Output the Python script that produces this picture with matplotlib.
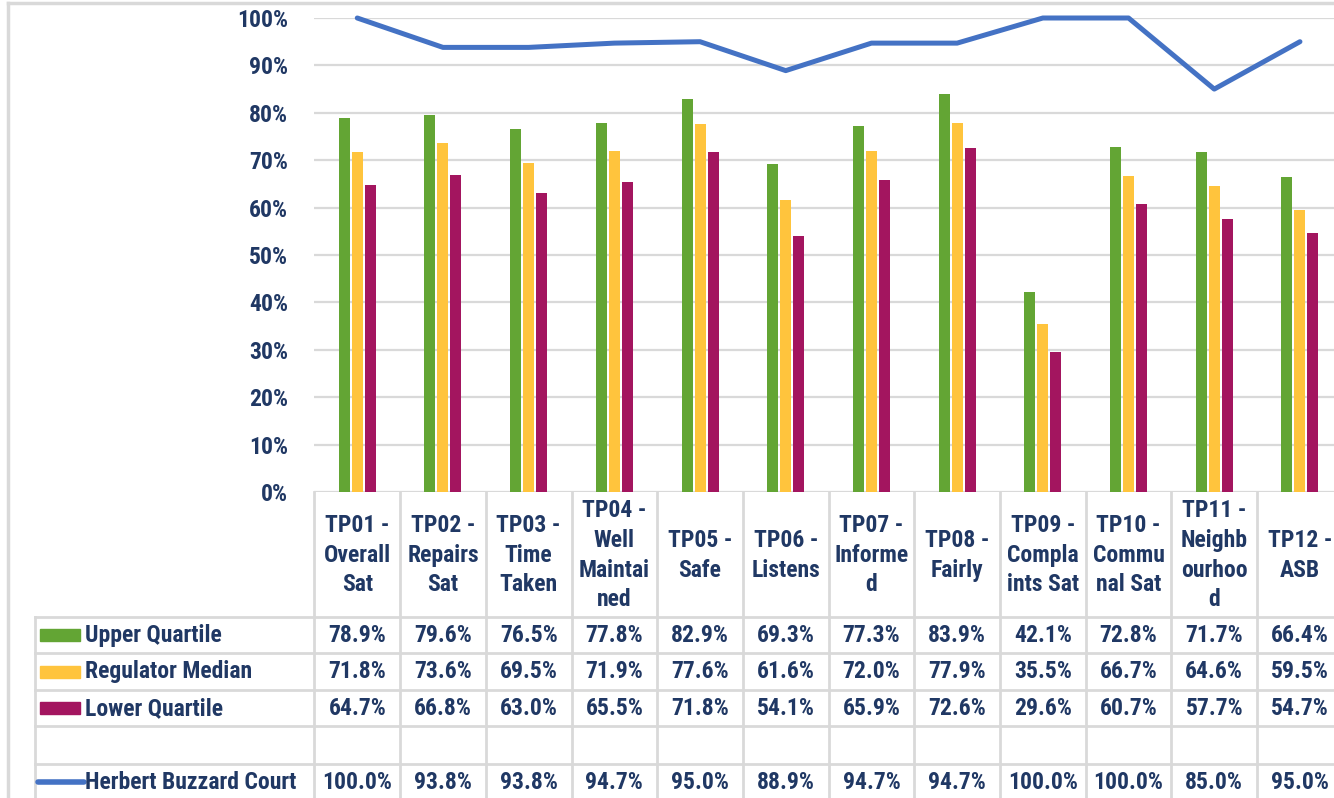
import matplotlib

matplotlib.use("Agg")
import matplotlib.pyplot as plt
from matplotlib.lines import Line2D
from matplotlib.patches import Rectangle
from matplotlib.ticker import PercentFormatter

# ---- data -------------------------------------------------------------
CATEGORIES = [
    "TP01 -\nOverall\nSat",
    "TP02 -\nRepairs\nSat",
    "TP03 -\nTime\nTaken",
    "TP04 -\nWell\nMaintai\nned",
    "TP05 -\nSafe",
    "TP06 -\nListens",
    "TP07 -\nInforme\nd",
    "TP08 -\nFairly",
    "TP09 -\nCompla\nints Sat",
    "TP10 -\nCommu\nnal Sat",
    "TP11 -\nNeighb\nourhoo\nd",
    "TP12 -\nASB",
]
UPPER = [78.9, 79.6, 76.5, 77.8, 82.9, 69.3, 77.3, 83.9, 42.1, 72.8, 71.7, 66.4]
MEDIAN = [71.8, 73.6, 69.5, 71.9, 77.6, 61.6, 72.0, 77.9, 35.5, 66.7, 64.6, 59.5]
LOWER = [64.7, 66.8, 63.0, 65.5, 71.8, 54.1, 65.9, 72.6, 29.6, 60.7, 57.7, 54.7]
HERBERT = [100.0, 93.8, 93.8, 94.7, 95.0, 88.9, 94.7, 94.7, 100.0, 100.0, 85.0, 95.0]

GREEN = "#63A534"
YELLOW = "#FFC43D"
PURPLE = "#A3155F"
BLUE = "#4472C4"
NAVY = "#203864"
GRID = "#D9D9D9"

# narrow bold face, close to the Arial Narrow used in the original
plt.rcParams["font.family"] = ["Roboto Condensed", "Liberation Sans", "DejaVu Sans"]
plt.rcParams["font.weight"] = "bold"
FS = 17

W, H = 1334, 798
fig = plt.figure(figsize=(W / 100, H / 100), dpi=100)


def px(x0, y0, x1, y1):
    """pixel box (top-left origin) -> figure fraction rect"""
    return [x0 / W, 1 - y1 / H, (x1 - x0) / W, (y1 - y0) / H]


step = 85.7
plot_l = 314.4
plot_r = plot_l + 12 * step
ax = fig.add_axes(px(plot_l, 18, plot_r, 492))
n = len(CATEGORIES)
xs = list(range(n))
bw = 0.128
off = 0.152
ax.bar([x - off for x in xs], UPPER, bw, color=GREEN, zorder=3)
ax.bar(xs, MEDIAN, bw, color=YELLOW, zorder=3)
ax.bar([x + off for x in xs], LOWER, bw, color=PURPLE, zorder=3)
ax.plot(xs, HERBERT, color=BLUE, lw=3.6, solid_capstyle="round",
        solid_joinstyle="round", zorder=4, clip_on=False)
ax.set_xlim(-0.5, n - 0.5)
ax.set_ylim(0, 100)
ax.set_yticks(range(0, 101, 10))
ax.yaxis.set_major_formatter(PercentFormatter(decimals=0))
ax.tick_params(axis="y", length=0, pad=19, labelsize=FS, labelcolor=NAVY)
ax.set_xticks([])
ax.grid(axis="y", color=GRID, lw=1.6, zorder=0)
for s in ax.spines.values():
    s.set_visible(False)

# ---- data table -------------------------------------------------------
tab_l = 35
lab_w = (plot_l - tab_l) / step
tab = fig.add_axes(px(tab_l, 492, plot_r, 800))
tab.set_xlim(-0.5 - lab_w, n - 0.5)
rows_h = [125, 37, 37, 36, 38, 36]
bounds = [0]
for h in rows_h:
    bounds.append(bounds[-1] + h)
tab.set_ylim(bounds[-1], 0)
tab.axis("off")

lkw = dict(color=GRID, lw=2, clip_on=False)
# vertical lines
for i in range(n + 1):
    tab.plot([i - 0.5, i - 0.5], [0, bounds[-1]], **lkw)
tab.plot([-0.5 - lab_w] * 2, [bounds[1], bounds[-1]], **lkw)
# horizontal lines
for b in bounds[1:]:
    tab.plot([-0.5 - lab_w, n - 0.5], [b, b], **lkw)

for i, lab in enumerate(CATEGORIES):
    tab.text(i, (bounds[0] + bounds[1]) / 2 + 1, lab, ha="center", va="center",
             fontsize=FS, color=NAVY, linespacing=1.37)

series = [
    ("Upper Quartile", UPPER, GREEN, 1),
    ("Regulator Median", MEDIAN, YELLOW, 2),
    ("Lower Quartile", LOWER, PURPLE, 3),
    ("Herbert Buzzard Court", HERBERT, BLUE, 5),
]
key_x0 = -0.5 - lab_w + 5 / step
key_x1 = key_x0 + 40 / step
for name, vals, col, r in series:
    yc = (bounds[r] + bounds[r + 1]) / 2
    if r == 5:
        tab.plot([key_x0 - 2 / step, key_x1 + 4 / step], [yc, yc], color=col,
                 lw=4, solid_capstyle="round")
    else:
        tab.add_patch(Rectangle((key_x0, yc - 6), key_x1 - key_x0, 12,
                                color=col))
    tab.text(key_x1 + 5 / step, yc, name, ha="left", va="center",
             fontsize=FS, color=NAVY)
    for i, v in enumerate(vals):
        tab.text(i, yc, f"{v:.1f}%", ha="center", va="center",
                 fontsize=FS, color=NAVY)

# outer chart frame
fig.add_artist(Line2D([8 / W, 1], [1 - 3 / H] * 2, color=GRID, lw=2.5))
fig.add_artist(Line2D([8 / W] * 2, [0, 1 - 3 / H], color=GRID, lw=2.5))

fig.savefig("out.png", dpi=100)
